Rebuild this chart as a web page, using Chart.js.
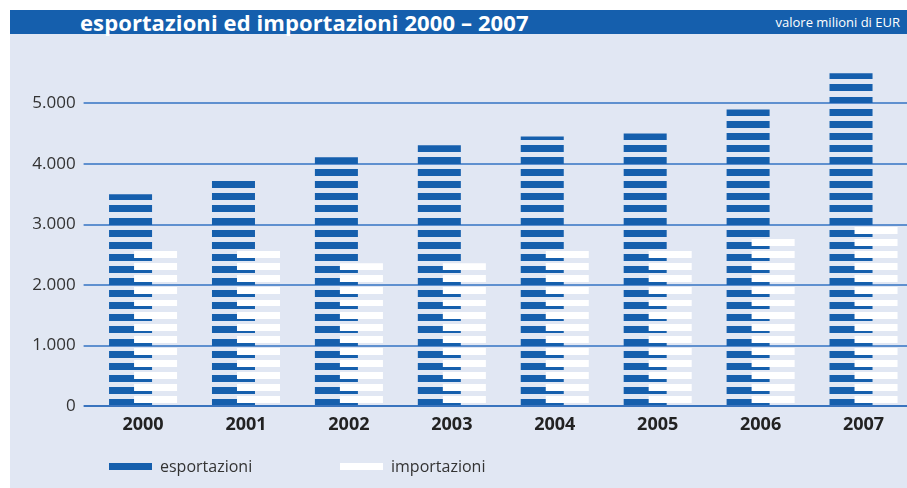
<!DOCTYPE html>
<html>
<head>
<meta charset="utf-8">
<script src="https://cdn.jsdelivr.net/npm/chart.js@4"></script>
<style>
  body { margin: 0; background: #fff; font-family: "Open Sans", sans-serif; }
  #wrap { position: relative; width: 907px; height: 488px; overflow: hidden; }
  .panel { position: absolute; left: 10px; top: 34px; right: 0; bottom: 0; background: #e1e7f3; }
  .band { position: absolute; left: 10px; top: 10px; right: 0; height: 24px; background: #155fad; color: #fff; }
  .band .title { position: absolute; left: 70px; top: -2px; font-size: 22px; font-weight: bold; line-height: 28px; letter-spacing: 0.1px; }
  .band .unit { position: absolute; right: 7px; top: 0; font-size: 13px; line-height: 24px; }
  canvas { position: absolute; left: 0; top: 0; }
  .legend { position: absolute; top: 454px; left: 0; font-size: 16px; color: #333; }
  .legend .item { position: absolute; white-space: nowrap; line-height: 24px; }
  .legend .sw { display: inline-block; width: 43px; height: 7px; vertical-align: middle; margin-right: 8px; position: relative; top: -1px; }
</style>
</head>
<body>
<div id="wrap">
  <div class="panel"></div>
  <div class="band">
    <span class="title">esportazioni ed importazioni 2000 – 2007</span>
    <span class="unit">valore milioni di EUR</span>
  </div>
  <canvas id="chart" width="915" height="488"></canvas>
  <div class="legend">
    <div class="item" style="left:109px"><span class="sw" style="background:#155fad"></span>esportazioni</div>
    <div class="item" style="left:340px"><span class="sw" style="background:#fff"></span>importazioni</div>
  </div>
</div>
<script>
  // values (milioni di EUR)
  const years = ["2000", "2001", "2002", "2003", "2004", "2005", "2006", "2007"];
  const esportazioni = [3500, 3720, 4110, 4310, 4455, 4505, 4900, 5500];
  const importazioni = [2560, 2560, 2360, 2360, 2560, 2560, 2760, 2960];

  const BLUE = "#155fad";
  const STRIPE_STEP = 200;  // one stripe every 200 in value
  const STRIPE_SIZE = 115;

  // bars are drawn as horizontal stripes following the value scale
  const patternCache = {};
  function stripeFill(color, offset) {
    return function(context) {
      const chart = context.chart;
      const y = chart.scales.y;
      if (!y || !chart.chartArea) return color;
      const key = color + offset + ":" + y.top + ":" + y.bottom;
      if (patternCache[key]) return patternCache[key];
      const c = document.createElement("canvas");
      c.width = 1;
      c.height = chart.height;
      const cx = c.getContext("2d");
      cx.fillStyle = color;
      for (let v = 0; v < y.max; v += STRIPE_STEP) {
        const top = Math.round(y.getPixelForValue(v + offset + STRIPE_SIZE));
        const bottom = Math.round(y.getPixelForValue(v + offset));
        cx.fillRect(0, top, 1, bottom - top);
      }
      patternCache[key] = chart.ctx.createPattern(c, "repeat");
      return patternCache[key];
    };
  }

  // exports sit left but are painted first, imports go over them
  const drawOrder = {
    id: "drawOrder",
    beforeDatasetsDraw(chart) {
      chart.getDatasetMeta(0).controller.draw();
      chart.getDatasetMeta(1).controller.draw();
      return false;
    }
  };

  const ctx = document.getElementById("chart").getContext("2d");
  new Chart(ctx, {
    type: "bar",
    data: {
      labels: years,
      datasets: [
        {
          label: "esportazioni",
          data: esportazioni,
          backgroundColor: stripeFill(BLUE, 0),
          borderWidth: 0
        },
        {
          label: "importazioni",
          data: importazioni,
          backgroundColor: stripeFill("#ffffff", 45),
          borderWidth: 0
        }
      ]
    },
    options: {
      responsive: false,
      animation: false,
      layout: { padding: { top: 43, bottom: 52, left: 0, right: 0 } },
      datasets: {
        bar: { categoryPercentage: 0.486, barPercentage: 1.72 }
      },
      plugins: {
        legend: { display: false },
        tooltip: { enabled: false }
      },
      scales: {
        x: {
          grid: { display: false, drawTicks: false },
          border: { display: false },
          ticks: {
            color: "#222",
            padding: 8,
            font: { family: "Open Sans", size: 18, weight: "bold" }
          },
          afterFit: (scale) => { scale.height = 30; }
        },
        y: {
          min: 0,
          max: 6000,
          border: { display: false },
          grid: {
            color: (c) => c.tick && c.tick.value === 0 ? "#3a74be" : "#5f90cf",
            lineWidth: 2,
            tickLength: 8
          },
          ticks: {
            stepSize: 1000,
            color: "#333",
            padding: 8,
            font: { family: "Open Sans", size: 17 },
            callback: (v) => v.toLocaleString("it-IT")
          },
          afterBuildTicks: (scale) => {
            scale.ticks = scale.ticks.filter(t => t.value <= 5000);
          },
          afterFit: (scale) => { scale.width = 91.6; }
        }
      }
    },
    plugins: [drawOrder]
  });
</script>
</body>
</html>
